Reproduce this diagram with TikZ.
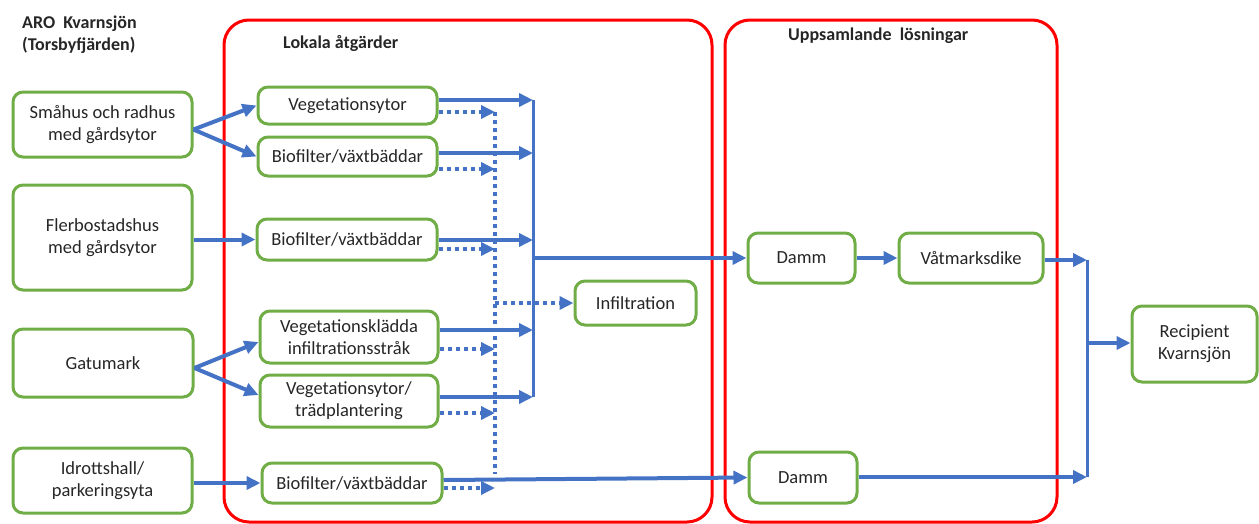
\documentclass[tikz,border=0pt]{standalone}
\usepackage{fontspec}
\setmainfont{Carlito}
\usetikzlibrary{arrows.meta,calc}
\definecolor{gblue}{HTML}{4472C4}
\definecolor{ggreen}{HTML}{70AD47}
\definecolor{gred}{HTML}{FF0000}
\definecolor{gtext}{HTML}{262626}
\begin{document}
\begin{tikzpicture}[x=1pt,y=-1pt,
 gbox/.style={draw=ggreen, line width=3pt, rounded corners=10pt, align=center, inner sep=0pt, font=\fontsize{18.5}{22}\selectfont, text=gtext},
 rbox/.style={draw=gred, line width=3pt, rounded corners=25pt, inner sep=0pt},
 arr/.style={draw=gblue, line width=4pt, -{Triangle[length=14pt,width=13pt]}},
 dotarr/.style={arr, dash pattern=on 4pt off 4pt},
 pipe/.style={draw=gblue, line width=3pt},
 dotpipe/.style={draw=gblue, line width=4pt, dash pattern=on 4pt off 4pt},
 ttl/.style={font=\bfseries\fontsize{18}{22}\selectfont, anchor=base west, inner sep=0pt, text=gtext}]
\useasboundingbox (0,0) rectangle (1259,523);
% red frames
\node[rbox, minimum width=488pt, minimum height=502pt] (lokal) at (468,271) {};
\node[rbox, minimum width=332pt, minimum height=502pt] (uppsaml) at (891,271) {};
% titles
\node[ttl] (t1) at (22,28) {ARO\ \ Kvarnsjön};
\node[ttl] (t2) at (22,50) {(Torsbyfjärden)};
\node[ttl] (t3) at (283,48) {Lokala åtgärder};
\node[ttl] (t4) at (788,40) {Uppsamlande\ \ lösningar};
% left column
\node[gbox, minimum width=179pt, minimum height=65pt] (A1) at (102.5,124.5) {Småhus och radhus\\med gårdsytor};
\node[gbox, minimum width=179pt, minimum height=105pt] (A2) at (102.5,237.5) {Flerbostadshus\\med gårdsytor};
\node[gbox, minimum width=180pt, minimum height=68pt] (A3) at (103,363) {Gatumark};
\node[gbox, minimum width=179pt, minimum height=65pt] (A4) at (102.5,480.5) {Idrottshall/\\parkeringsyta};
% local measures
\node[gbox, minimum width=179pt, minimum height=37pt] (B1) at (347.5,105.5) {Vegetationsytor};
\node[gbox, minimum width=179pt, minimum height=39pt] (B2) at (347.5,156.5) {Biofilter/växtbäddar};
\node[gbox, minimum width=180pt, minimum height=41pt] (B3) at (347,239.5) {Biofilter/växtbäddar};
\node[gbox, minimum width=178pt, minimum height=52pt] (B4) at (349,337) {Vegetationsklädda\\infiltrationsstråk};
\node[gbox, minimum width=178pt, minimum height=52pt] (B5) at (349,401) {Vegetationsytor/\\trädplantering};
\node[gbox, minimum width=180pt, minimum height=40pt] (B6) at (352,483) {Biofilter/växtbäddar};
\node[gbox, minimum width=121pt, minimum height=44pt] (INF) at (635.5,303) {Infiltration};
% collecting solutions
\node[gbox, minimum width=107pt, minimum height=50pt] (D1) at (801.5,258) {Damm};
\node[gbox, minimum width=144pt, minimum height=50pt] (VAT) at (971,258) {Våtmarksdike};
\node[gbox, minimum width=108pt, minimum height=51pt] (D2) at (803,477.5) {Damm};
\node[gbox, minimum width=125pt, minimum height=76pt] (REC) at (1194.5,344) {Recipient\\Kvarnsjön};
% collector coordinates
\coordinate (s1) at (533,100);
\coordinate (s2) at (533,153);
\coordinate (s3) at (533,240);
\coordinate (s4) at (533,330);
\coordinate (s5) at (533,397);
\coordinate (s0) at (533,258);
\coordinate (d1) at (495,112);
\coordinate (d2) at (495,169);
\coordinate (d3) at (495,249);
\coordinate (d4) at (495,349);
\coordinate (d5) at (495,413);
\coordinate (d6) at (495,488);
\coordinate (d0) at (495,303);
\coordinate (dend) at (495,474);
\coordinate (r1) at (1087,260);
\coordinate (r2) at (1087,477);
\coordinate (r3) at (1087,343);
% left arrows
\draw[arr] ($(A1.east)+(0,5)$) -- (B1.west);
\draw[arr] ($(A1.east)+(0,5)$) -- (B2.west);
\draw[arr] (A2.east |- B3.west) -- (B3.west);
\draw[arr] ($(A3.east)+(0,5)$) -- ($(B4.west)+(0,5)$);
\draw[arr] ($(A3.east)+(0,5)$) -- ($(B5.west)+(0,-6)$);
\draw[arr] (A4.east |- B6.west) -- (B6.west);
% solid collector
\draw[pipe] (s1) -- (s5);
\draw[arr] (B1.east |- s1) -- (s1);
\draw[arr] (B2.east |- s2) -- (s2);
\draw[arr] (B3.east |- s3) -- (s3);
\draw[arr] (B4.east |- s4) -- (s4);
\draw[arr] (B5.east |- s5) -- (s5);
\draw[arr] (s0) -- (D1.west);
% dotted collector
\draw[dotpipe] (d1) -- (dend);
\draw[dotarr] (B1.east |- d1) -- (d1);
\draw[dotarr] (B2.east |- d2) -- (d2);
\draw[dotarr] (B3.east |- d3) -- (d3);
\draw[dotarr] (B4.east |- d4) -- (d4);
\draw[dotarr] (B5.east |- d5) -- (d5);
\draw[dotarr] (B6.east |- d6) -- (d6);
\draw[dotarr] (d0) -- (INF.west);
% bottom line
\draw[arr] ($(B6.east)+(0,-3)$) -- (D2.west);
% right part
\draw[arr] (D1.east) -- (VAT.west);
\draw[arr] (VAT.east |- r1) -- (r1);
\draw[arr] (D2.east |- r2) -- (r2);
\draw[pipe] (r1) -- (r2);
\draw[arr] (r3) -- (r3 -| REC.west);
\end{tikzpicture}
\end{document}
